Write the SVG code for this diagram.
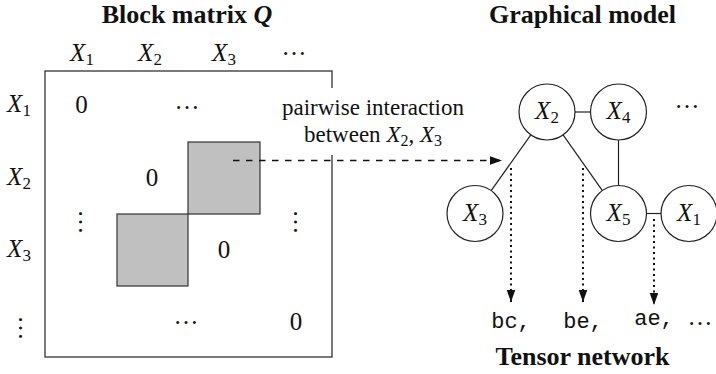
<svg xmlns="http://www.w3.org/2000/svg" width="716" height="374" viewBox="0 0 716 374">
<style>
  text { font-family: "Liberation Serif", "Times New Roman", serif; fill: #111; }
  .title { font-size: 26px; font-weight: bold; text-anchor: middle; }
  .math { font-size: 25px; text-anchor: middle; }
  .lbl { font-size: 23px; text-anchor: middle; }
  .it { font-style: italic; }
  .dots { font-size: 25px; text-anchor: middle; }
  .mono { font-family: "Liberation Mono", "Courier New", monospace; font-size: 22px; text-anchor: middle; }
  .edge { stroke: #222; stroke-width: 1.2; fill: none; }
  .node circle { fill: #fff; stroke: #222; stroke-width: 1.2; }
  .frame { fill: #fff; stroke: #333; stroke-width: 1.3; }
  .block { fill: #c0c0c0; stroke: #333; stroke-width: 1.2; }
  .dashed { stroke: #111; stroke-width: 1.5; stroke-dasharray: 6.5 6.5; fill: none; }
  .dotted { stroke: #111; stroke-width: 2; stroke-dasharray: 2 3.5; fill: none; }
</style>
<defs>
  <marker id="arr" markerUnits="userSpaceOnUse" markerWidth="13" markerHeight="10" refX="12" refY="4.3" orient="auto">
    <path d="M0,0 L12,4.3 L0,8.6 z" fill="#111"/>
  </marker>
</defs>

<rect x="0" y="0" width="716" height="374" fill="#fff"/>

<!-- Titles -->
<g id="title-matrix"><text class="title" x="187" y="23">Block matrix <tspan font-style="italic">Q</tspan></text></g>
<g id="title-graph"><text class="title" x="582.5" y="23">Graphical model</text></g>
<g id="title-tensor"><text class="title" x="582.5" y="365">Tensor network</text></g>

<!-- Matrix -->
<g id="matrix">
  <rect class="frame" x="45" y="71" width="287" height="286"/>
  <rect class="block" x="188" y="142" width="72" height="72"/>
  <rect class="block" x="117" y="214" width="71" height="72"/>
  <!-- column headers -->
  <text class="math" x="82" y="61"><tspan class="it">X</tspan><tspan font-size="17" dy="4">1</tspan></text>
  <text class="math" x="150" y="61"><tspan class="it">X</tspan><tspan font-size="17" dy="4">2</tspan></text>
  <text class="math" x="224" y="61"><tspan class="it">X</tspan><tspan font-size="17" dy="4">3</tspan></text>
  <text class="dots" x="294" y="54.5">…</text>
  <!-- row headers -->
  <text class="math" x="19" y="112"><tspan class="it">X</tspan><tspan font-size="17" dy="4">1</tspan></text>
  <text class="math" x="19" y="185"><tspan class="it">X</tspan><tspan font-size="17" dy="4">2</tspan></text>
  <text class="math" x="19" y="257"><tspan class="it">X</tspan><tspan font-size="17" dy="4">3</tspan></text>
  <text class="dots" transform="translate(18.6,328) rotate(90)" x="0" y="0">…</text>
  <!-- entries -->
  <text class="math" x="81.5" y="113">0</text>
  <text class="dots" x="187" y="108.5">…</text>
  <text class="math" x="152" y="186">0</text>
  <text class="dots" transform="translate(78.6,222) rotate(90)" x="0" y="0">…</text>
  <text class="dots" transform="translate(293.6,222) rotate(90)" x="0" y="0">…</text>
  <text class="math" x="224" y="258">0</text>
  <text class="dots" x="186" y="323.5">…</text>
  <text class="math" x="296" y="330">0</text>
</g>

<!-- Interaction label -->
<g id="label-interaction">
  <rect x="276" y="88" width="196" height="67" fill="#fff"/>
  <text class="lbl" x="373" y="115">pairwise interaction</text>
  <text class="lbl" x="373" y="142">between <tspan class="it">X</tspan><tspan font-size="16" dy="4">2</tspan><tspan dy="-4">, </tspan><tspan class="it">X</tspan><tspan font-size="16" dy="4">3</tspan></text>
</g>

<!-- Connectors -->
<g id="connectors">
  <line class="dashed" x1="233" y1="160.5" x2="502" y2="160.5" marker-end="url(#arr)"/>
  <line class="edge" x1="575" y1="112" x2="590.5" y2="112"/>
  <line class="edge" x1="618.5" y1="140" x2="618.5" y2="185.5"/>
  <line class="edge" x1="646.5" y1="213.5" x2="661" y2="213.5"/>
  <line class="edge" x1="530.8" y1="134.8" x2="491.2" y2="190.6"/>
  <line class="edge" x1="563.1" y1="134.9" x2="602.4" y2="190.6"/>
  <line class="dotted" x1="511" y1="168" x2="511" y2="302" marker-end="url(#arr)"/>
  <line class="dotted" x1="583" y1="168" x2="583" y2="302" marker-end="url(#arr)"/>
  <line class="dotted" x1="654" y1="219" x2="654" y2="305" marker-end="url(#arr)"/>
</g>

<!-- Graph nodes -->
<g id="node-X2" class="node"><circle cx="547" cy="112" r="28"/><text class="math" x="547" y="119"><tspan class="it">X</tspan><tspan font-size="17" dy="4">2</tspan></text></g>
<g id="node-X4" class="node"><circle cx="618.5" cy="112" r="28"/><text class="math" x="618.5" y="119"><tspan class="it">X</tspan><tspan font-size="17" dy="4">4</tspan></text></g>
<g id="node-X3" class="node"><circle cx="475" cy="213.5" r="28"/><text class="math" x="475" y="220.5"><tspan class="it">X</tspan><tspan font-size="17" dy="4">3</tspan></text></g>
<g id="node-X5" class="node"><circle cx="618.5" cy="213.5" r="28"/><text class="math" x="618.5" y="220.5"><tspan class="it">X</tspan><tspan font-size="17" dy="4">5</tspan></text></g>
<g id="node-X1" class="node"><circle cx="689" cy="213.5" r="28"/><text class="math" x="689" y="220.5"><tspan class="it">X</tspan><tspan font-size="17" dy="4">1</tspan></text></g>
<g id="graph-dots"><text class="dots" x="687" y="108">…</text></g>

<!-- Tensor network terms -->
<g id="tensor-terms">
  <text class="mono" x="511" y="328">bc,</text>
  <text class="mono" x="583" y="328">be,</text>
  <text class="mono" x="654" y="325">ae,</text>
  <text class="dots" x="700" y="325" font-size="24">…</text>
</g>
</svg>
